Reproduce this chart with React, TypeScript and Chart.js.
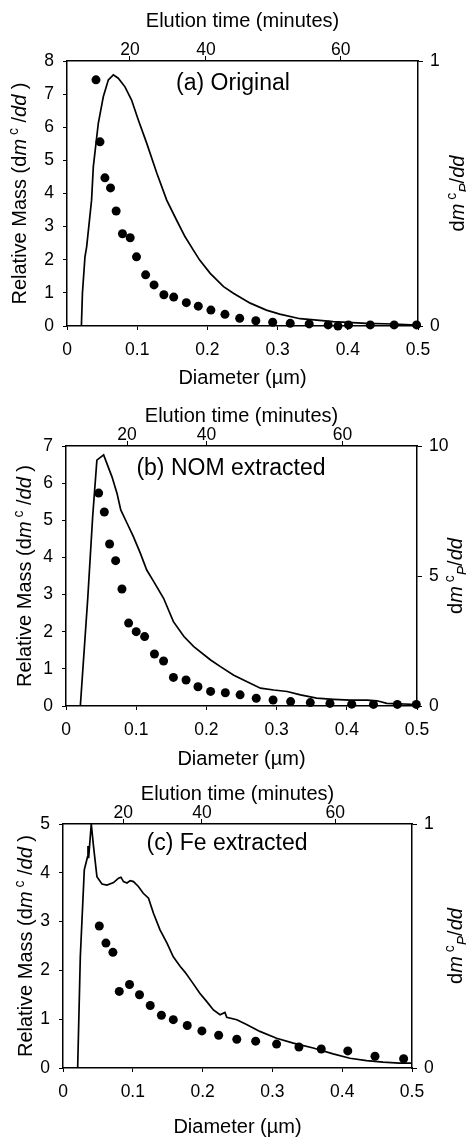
import React, { useEffect, useRef } from 'react';
import { Chart, registerables } from 'chart.js';

Chart.register(...registerables);
Chart.defaults.font.family = "'Liberation Sans', Arial, Helvetica, sans-serif";
Chart.defaults.color = '#000';

// ---------- Panel (a) Original ----------
const origLineDiameter = [0.0205, 0.022, 0.0256, 0.028, 0.035, 0.0375, 0.0446, 0.0517, 0.0589, 0.066, 0.073, 0.0826, 0.092, 0.1016, 0.1135, 0.128, 0.142, 0.156, 0.168, 0.180, 0.189, 0.204, 0.223, 0.237, 0.261, 0.284, 0.303, 0.332, 0.360, 0.379, 0.427, 0.465, 0.498];
const origLineMass = [0, 1.0, 2.09, 2.39, 3.80, 4.81, 6.12, 6.92, 7.43, 7.58, 7.48, 7.22, 6.82, 6.22, 5.52, 4.61, 3.80, 3.20, 2.70, 2.29, 1.99, 1.59, 1.19, 0.99, 0.69, 0.48, 0.36, 0.22, 0.17, 0.13, 0.08, 0.06, 0.03];
const origDotDiameter = [0.0413, 0.047, 0.054, 0.062, 0.070, 0.079, 0.090, 0.099, 0.112, 0.124, 0.138, 0.152, 0.170, 0.187, 0.205, 0.225, 0.246, 0.269, 0.293, 0.318, 0.345, 0.372, 0.386, 0.401, 0.432, 0.466, 0.498];
const origDotDmp = [0.929, 0.695, 0.559, 0.521, 0.434, 0.348, 0.333, 0.261, 0.193, 0.155, 0.118, 0.109, 0.088, 0.075, 0.060, 0.044, 0.029, 0.020, 0.014, 0.010, 0.008, 0.004, 0.000, 0.004, 0.004, 0.004, 0.004];

// ---------- Panel (b) NOM extracted ----------
const nomLineDiameter = [0.0204, 0.031, 0.038, 0.044, 0.0536, 0.0655, 0.0726, 0.078, 0.087, 0.096, 0.106, 0.115, 0.125, 0.139, 0.153, 0.168, 0.182, 0.206, 0.220, 0.239, 0.258, 0.277, 0.296, 0.315, 0.334, 0.357, 0.381, 0.405, 0.429, 0.443, 0.457, 0.500];
const nomLineMass = [0, 2.9, 5.1, 6.62, 6.76, 6.17, 5.73, 5.28, 4.92, 4.56, 4.11, 3.66, 3.35, 2.90, 2.27, 1.87, 1.60, 1.24, 1.06, 0.83, 0.65, 0.48, 0.43, 0.39, 0.30, 0.21, 0.18, 0.16, 0.16, 0.14, 0.07, 0.04];
const nomDotDiameter = [0.0465, 0.0546, 0.0621, 0.0707, 0.0797, 0.0892, 0.100, 0.112, 0.126, 0.139, 0.153, 0.171, 0.188, 0.206, 0.227, 0.248, 0.271, 0.295, 0.320, 0.348, 0.376, 0.407, 0.438, 0.472, 0.499];
const nomDotDmp = [8.19, 7.46, 6.23, 5.59, 4.50, 3.19, 2.86, 2.67, 2.00, 1.73, 1.10, 1.00, 0.74, 0.56, 0.51, 0.43, 0.30, 0.23, 0.17, 0.13, 0.10, 0.07, 0.06, 0.06, 0.06];

// ---------- Panel (c) Fe extracted ----------
const feLineDiameter = [0.021, 0.0248, 0.0305, 0.0352, 0.0358, 0.0367, 0.0405, 0.0438, 0.0486, 0.0558, 0.063, 0.0724, 0.0796, 0.083, 0.0867, 0.0916, 0.0963, 0.101, 0.108, 0.115, 0.1225, 0.1296, 0.139, 0.149, 0.158, 0.168, 0.175, 0.1845, 0.196, 0.206, 0.2155, 0.225, 0.232, 0.2346, 0.249, 0.263, 0.282, 0.306, 0.330, 0.3585, 0.387, 0.411, 0.435, 0.4585, 0.482, 0.501];
const feLineMass = [0, 2.28, 4.06, 4.33, 4.55, 4.3, 5.0, 4.53, 3.92, 3.77, 3.75, 3.80, 3.89, 3.91, 3.82, 3.79, 3.84, 3.82, 3.72, 3.58, 3.48, 3.17, 2.83, 2.56, 2.28, 2.08, 1.96, 1.77, 1.53, 1.36, 1.19, 1.09, 1.14, 1.04, 0.99, 0.89, 0.75, 0.61, 0.51, 0.41, 0.29, 0.20, 0.15, 0.12, 0.10, 0.10];
const feDotDiameter = [0.052, 0.0615, 0.0715, 0.0806, 0.0953, 0.1096, 0.125, 0.141, 0.158, 0.178, 0.199, 0.223, 0.249, 0.276, 0.306, 0.338, 0.370, 0.408, 0.447, 0.488];
const feDotDmp = [0.582, 0.512, 0.474, 0.314, 0.342, 0.300, 0.256, 0.216, 0.198, 0.174, 0.152, 0.134, 0.118, 0.110, 0.098, 0.086, 0.078, 0.070, 0.048, 0.038];

// ---------- Axes ----------
const diameterTickValues = [0, 0.1, 0.2, 0.3, 0.4, 0.5];
const diameterTickLabels = ['0', '0.1', '0.2', '0.3', '0.4', '0.5'];
const elutionTickLabels = ['20', '40', '60'];
const origElutionTickDiameter = [0.0897, 0.198, 0.390];
const nomElutionTickDiameter = [0.0869, 0.200, 0.394];
const feElutionTickDiameter = [0.0863, 0.199, 0.390];
const origMassTicks = [0, 1, 2, 3, 4, 5, 6, 7, 8];
const nomMassTicks = [0, 1, 2, 3, 4, 5, 6, 7];
const feMassTicks = [0, 1, 2, 3, 4, 5];
const origDmpTicks = [0, 1];
const nomDmpTicks = [0, 5, 10];
const feDmpTicks = [0, 1];

const panelLabels = ['(a) Original', '(b) NOM extracted', '(c) Fe extracted'];
const topAxisTitle = 'Elution time (minutes)';
const bottomAxisTitle = 'Diameter (\u00b5m)';

type Seg = { t: string; italic?: boolean; shift?: 'sup' | 'sub' };
const leftTitle: Seg[] = [
  { t: 'Relative Mass (d' }, { t: 'm', italic: true }, { t: ' c', shift: 'sup' }, { t: ' /' }, { t: 'dd', italic: true }, { t: ' )' },
];
const rightTitle: Seg[] = [
  { t: 'd' }, { t: 'm', italic: true }, { t: ' c', shift: 'sup' }, { t: 'P', italic: true, shift: 'sub' }, { t: '/' }, { t: 'dd', italic: true },
];

const FAMILY = "'Liberation Sans', Arial, Helvetica, sans-serif";

function drawRich(ctx: CanvasRenderingContext2D, segs: Seg[], cx: number, cy: number, rot: number, size: number) {
  ctx.save();
  ctx.translate(cx, cy);
  ctx.rotate(rot);
  ctx.fillStyle = '#000';
  ctx.textBaseline = 'alphabetic';
  ctx.textAlign = 'left';
  const fontFor = (s: Seg) => `${s.italic ? 'italic ' : ''}${s.shift ? Math.round(size * 0.68) : size}px ${FAMILY}`;
  let total = 0;
  const widths = segs.map((s) => {
    ctx.font = fontFor(s);
    const w = ctx.measureText(s.t).width;
    total += w;
    return w;
  });
  let x = -total / 2;
  const base = size * 0.36;
  segs.forEach((s, i) => {
    ctx.font = fontFor(s);
    let dy = 0;
    if (s.shift === 'sup') dy = -size * 0.42;
    if (s.shift === 'sub') dy = size * 0.22;
    ctx.fillText(s.t, x, base + dy);
    x += widths[i];
  });
  ctx.restore();
}

type PanelCfg = {
  top: number;
  height: number;
  area: { left: number; right: number; top: number; bottom: number };
  lineD: number[];
  lineV: number[];
  dotD: number[];
  dotV: number[];
  elutionPos: number[];
  massTicks: number[];
  dmpTicks: number[];
  label: string;
  labelPos: { x: number; y: number };
  elutionY: number;
  diameterY: number;
  leftTitleX: number;
  rightTitleX: number;
};

const W = 466;

const panels: PanelCfg[] = [
  {
    top: 0, height: 392, area: { left: 67, right: 418, top: 61, bottom: 326 },
    lineD: origLineDiameter, lineV: origLineMass, dotD: origDotDiameter, dotV: origDotDmp,
    elutionPos: origElutionTickDiameter, massTicks: origMassTicks, dmpTicks: origDmpTicks,
    label: panelLabels[0], labelPos: { x: 233, y: 82 }, elutionY: 20, diameterY: 377, leftTitleX: 19, rightTitleX: 457,
  },
  {
    top: 392, height: 378, area: { left: 66, right: 417, top: 54, bottom: 314 },
    lineD: nomLineDiameter, lineV: nomLineMass, dotD: nomDotDiameter, dotV: nomDotDmp,
    elutionPos: nomElutionTickDiameter, massTicks: nomMassTicks, dmpTicks: nomDmpTicks,
    label: panelLabels[1], labelPos: { x: 231, y: 75 }, elutionY: 23, diameterY: 366, leftTitleX: 24, rightTitleX: 455,
  },
  {
    top: 770, height: 367, area: { left: 63, right: 412, top: 54, bottom: 298 },
    lineD: feLineDiameter, lineV: feLineMass, dotD: feDotDiameter, dotV: feDotDmp,
    elutionPos: feElutionTickDiameter, massTicks: feMassTicks, dmpTicks: feDmpTicks,
    label: panelLabels[2], labelPos: { x: 227, y: 72 }, elutionY: 23, diameterY: 356, leftTitleX: 25, rightTitleX: 455,
  },
];

function Panel({ cfg }: { cfg: PanelCfg }) {
  const ref = useRef<HTMLCanvasElement>(null);
  useEffect(() => {
    const canvas = ref.current!;
    const a = cfg.area;
    const tickFont = { size: 17.5, family: FAMILY };
    const gridCommon = { drawOnChartArea: false, tickLength: 4, color: '#000', lineWidth: 1 };
    const border = { display: true, color: '#000', width: 1.5 };

    const titlesPlugin = {
      id: 'titles' + cfg.top,
      afterDraw(chart: any) {
        const ctx = chart.ctx as CanvasRenderingContext2D;
        const ca = chart.chartArea;
        const cx = (ca.left + ca.right) / 2;
        const cy = (ca.top + ca.bottom) / 2;
        drawRich(ctx, [{ t: topAxisTitle }], cx, cfg.elutionY, 0, 20);
        drawRich(ctx, [{ t: bottomAxisTitle }], cx, cfg.diameterY, 0, 20);
        drawRich(ctx, leftTitle, cfg.leftTitleX, cy, -Math.PI / 2, 20);
        drawRich(ctx, rightTitle, cfg.rightTitleX, cy, -Math.PI / 2, 20);
        drawRich(ctx, [{ t: cfg.label }], cfg.labelPos.x, cfg.labelPos.y, 0, 23);
      },
    };

    const chart = new Chart(canvas, {
      type: 'scatter',
      data: {
        datasets: [
          {
            label: 'line',
            data: cfg.lineD.map((d, i) => ({ x: d, y: cfg.lineV[i] })),
            showLine: true,
            borderColor: '#000',
            borderWidth: 1.7,
            pointRadius: 0,
            tension: 0,
            xAxisID: 'x',
            yAxisID: 'y',
          },
          {
            label: 'dots',
            data: cfg.dotD.map((d, i) => ({ x: d, y: cfg.dotV[i] })),
            showLine: false,
            pointRadius: 4.5,
            pointBackgroundColor: '#000',
            pointBorderColor: '#000',
            pointBorderWidth: 0,
            xAxisID: 'x',
            yAxisID: 'y2',
            clip: false,
          },
        ],
      },
      options: {
        responsive: false,
        animation: false,
        devicePixelRatio: 1,
        events: [],
        layout: { padding: 0 },
        plugins: { legend: { display: false }, tooltip: { enabled: false } },
        scales: {
          x: {
            type: 'linear', position: 'bottom', min: 0, max: 0.5,
            afterBuildTicks: (s: any) => { s.ticks = diameterTickValues.map((v) => ({ value: v })); },
            afterFit: (s: any) => { s.height = cfg.height - a.bottom; },
            ticks: { autoSkip: false, maxRotation: 0, padding: 10, color: '#000', font: tickFont, callback: (_v: any, i: number) => diameterTickLabels[i] },
            grid: gridCommon, border,
          },
          xTop: {
            type: 'linear', position: 'top', min: 0, max: 0.5,
            afterBuildTicks: (s: any) => { s.ticks = cfg.elutionPos.map((v) => ({ value: v })); },
            afterFit: (s: any) => { s.height = a.top; },
            ticks: { autoSkip: false, maxRotation: 0, padding: -5, color: '#000', font: tickFont, callback: (_v: any, i: number) => elutionTickLabels[i] },
            grid: { ...gridCommon, tickLength: 5 }, border,
          },
          y: {
            type: 'linear', position: 'left', min: 0, max: cfg.massTicks[cfg.massTicks.length - 1],
            afterBuildTicks: (s: any) => { s.ticks = cfg.massTicks.map((v) => ({ value: v })); },
            afterFit: (s: any) => { s.width = a.left; },
            ticks: { autoSkip: false, padding: 9, color: '#000', font: tickFont, callback: (v: any) => String(v) },
            grid: gridCommon, border,
          },
          y2: {
            type: 'linear', position: 'right', min: 0, max: cfg.dmpTicks[cfg.dmpTicks.length - 1],
            afterBuildTicks: (s: any) => { s.ticks = cfg.dmpTicks.map((v) => ({ value: v })); },
            afterFit: (s: any) => { s.width = W - a.right; },
            ticks: { autoSkip: false, padding: 7, color: '#000', font: tickFont, callback: (v: any) => String(v) },
            grid: { ...gridCommon, tickLength: 5 }, border,
          },
        },
      } as any,
      plugins: [titlesPlugin],
    });
    return () => chart.destroy();
  }, [cfg]);
  return (
    <canvas
      ref={ref}
      width={W}
      height={cfg.height}
      style={{ position: 'absolute', left: 0, top: cfg.top, width: W, height: cfg.height, display: 'block' }}
    />
  );
}

export default function App() {
  return (
    <div style={{ position: 'absolute', left: 0, top: 0, width: W, height: 1137, background: '#fff', overflow: 'hidden' }}>
      {panels.map((p, i) => (
        <Panel key={i} cfg={p} />
      ))}
    </div>
  );
}
